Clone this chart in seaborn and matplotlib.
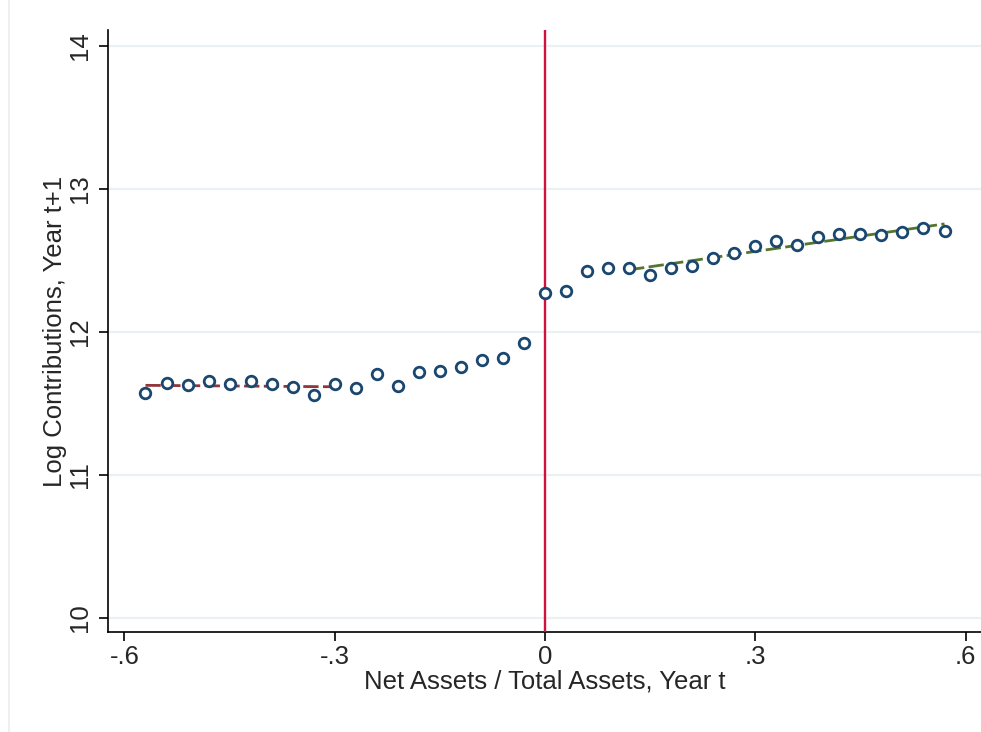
import matplotlib
matplotlib.use("Agg")
import matplotlib.pyplot as plt
import seaborn as sns
import pandas as pd
import numpy as np

# ---- data ----
net_assets = [-0.57, -0.54, -0.51, -0.48, -0.45, -0.42, -0.39, -0.36, -0.33, -0.30,
              -0.27, -0.24, -0.21, -0.18, -0.15, -0.12, -0.09, -0.06, -0.03,
              0.00, 0.03, 0.06, 0.09, 0.12, 0.15, 0.18, 0.21, 0.24, 0.27,
              0.30, 0.33, 0.36, 0.39, 0.42, 0.45, 0.48, 0.51, 0.54, 0.57]
log_contrib = [11.572, 11.642, 11.624, 11.654, 11.635, 11.656, 11.635, 11.610, 11.554, 11.635,
               11.605, 11.705, 11.621, 11.717, 11.722, 11.750, 11.803, 11.817, 11.924,
               12.273, 12.285, 12.425, 12.444, 12.446, 12.395, 12.449, 12.458, 12.514, 12.549,
               12.598, 12.635, 12.603, 12.659, 12.680, 12.680, 12.675, 12.698, 12.726, 12.701]

fit_left_x = [-0.57, -0.30]
fit_left_y = [11.625, 11.615]
fit_right_x = [0.12, 0.57]
fit_right_y = [12.433, 12.754]

cutoff = [0.0]
x_ticks = [-0.6, -0.3, 0.0, 0.3, 0.6]
x_tick_labels = ["-.6", "-.3", "0", ".3", ".6"]
y_ticks = [10, 11, 12, 13, 14]
y_tick_labels = ["10", "11", "12", "13", "14"]

df = pd.DataFrame({"x": net_assets, "y": log_contrib})
fl = pd.DataFrame({"x": fit_left_x, "y": fit_left_y})
fr = pd.DataFrame({"x": fit_right_x, "y": fit_right_y})

sns.set_style("white")
plt.rcParams["font.family"] = ["Liberation Sans", "DejaVu Sans"]

fig = plt.figure(figsize=(9.81, 7.32), dpi=100)
ax = fig.add_axes([108/981, 100/732, (982-108)/981, (632-30)/732])

# light outer frame line at left of graph region
fig.add_artist(plt.Line2D([9/981, 9/981], [0, 1], color="#ececec", lw=1.2, transform=fig.transFigure))

for yt in y_ticks:
    ax.axhline(yt, color="#eaf0f3", lw=1.6, zorder=0)

sns.lineplot(data=fl, x="x", y="y", ax=ax, color="#90353b", lw=2.0,
             zorder=2, legend=False)
ax.lines[-1].set_dashes([5.5, 1.6])
sns.lineplot(data=fr, x="x", y="y", ax=ax, color="#55752f", lw=2.0,
             zorder=2, legend=False)
ax.lines[-1].set_dashes([5.5, 1.6])

ax.axvline(cutoff[0], color="#d2103f", lw=1.7, zorder=3)

sns.scatterplot(data=df, x="x", y="y", ax=ax, s=58, facecolor="white",
                edgecolor="#1a476f", linewidth=2.0, zorder=4, legend=False)

ax.set_xlim(-0.6235, 0.6235)
ax.set_ylim(9.9, 14.11)
ax.set_xticks(x_ticks)
ax.set_xticklabels(x_tick_labels)
ax.set_yticks(y_ticks)
ax.set_yticklabels(y_tick_labels, rotation=90, va="center")

ax.tick_params(axis="both", direction="out", length=6.5, width=1.2, color="black",
               labelsize=18.5, pad=3, left=True, bottom=True)
ax.tick_params(axis="y", pad=5)
ax.set_xlabel("Net Assets / Total Assets, Year t", fontsize=18.5, labelpad=0)
ax.set_ylabel("Log Contributions, Year t+1", fontsize=18.5)
ax.yaxis.set_label_coords(-0.047, 0.5)

for s in ["top", "right"]:
    ax.spines[s].set_visible(False)
for s in ["left", "bottom"]:
    ax.spines[s].set_color("black")
    ax.spines[s].set_linewidth(1.2)

fig.savefig("out.png", dpi=100, facecolor="white")
